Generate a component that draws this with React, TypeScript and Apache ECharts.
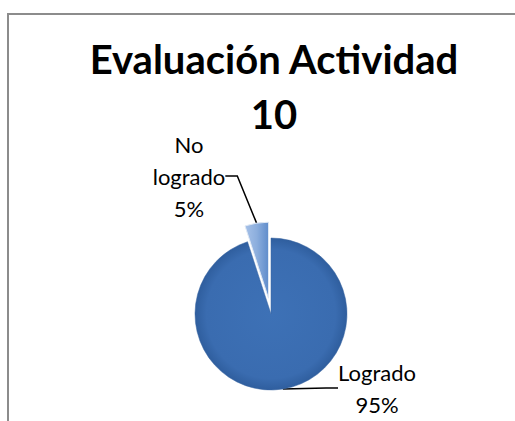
import React, { useEffect, useRef } from "react";
import * as echarts from "echarts";

const categories = ["Logrado", "No logrado"];
const values = [95, 5];
const explodedIndex = 1;
const titleLines = ["Evaluación Actividad", "10"];

export default function App() {
  const ref = useRef<HTMLDivElement>(null);
  useEffect(() => {
    document.body.style.margin = "0";
    const chart = echarts.init(ref.current!, null, { renderer: "svg" });
    const mainFill = new echarts.graphic.RadialGradient(0.5, 0.5, 0.5, [
      { offset: 0, color: "#3d71b6" },
      { offset: 0.85, color: "#3a6cb0" },
      { offset: 1, color: "#2f5e9e" },
    ]);
    const smallFill = new echarts.graphic.LinearGradient(0, 0, 1, 0, [
      { offset: 0, color: "#a6c1e8" },
      { offset: 0.5, color: "#8caedd" },
      { offset: 1, color: "#5f8ccb" },
    ]);
    const center = [271, 314];
    const explode = 16;
    const total = values.reduce((a, b) => a + b, 0);
    const before = values.slice(0, explodedIndex).reduce((a, b) => a + b, 0);
    const midFrac = (before + values[explodedIndex] / 2) / total;
    const ang = midFrac * 2 * Math.PI; // clockwise from top
    const off = [Math.sin(ang) * explode, -Math.cos(ang) * explode];
    const labelPos = [
      { x: 377, y: 388 },
      { x: 189, y: 176 },
    ];
    const fills = [mainFill, smallFill];
    const borders = ["#3a67a2", "#dfe8f4"];

    const makeSeries = (visibleIdx: number[], c: number[]) => ({
      type: "pie",
      center: c,
      radius: 76,
      startAngle: 90,
      clockwise: true,
      silent: true,
      data: categories.map((name, i) => {
        const vis = visibleIdx.includes(i);
        return {
          name,
          value: values[i],
          itemStyle: vis
            ? { color: fills[i], borderColor: borders[i], borderWidth: i === 0 ? 0.5 : 1 }
            : { color: "rgba(0,0,0,0)", borderWidth: 0 },
          label: { show: vis },
          labelLine: { show: vis },
        };
      }),
      label: {
        show: true,
        position: "outside",
        formatter: (p: any) => p.name.replace(" ", "\n") + "\n" + Math.round(p.percent) + "%",
        fontFamily: "Lato",
        fontSize: 22,
        lineHeight: 32,
        color: "#000000",
        align: "center",
      },
      labelLine: {
        show: true,
        length: 20,
        length2: 12,
        lineStyle: { color: "#000000", width: 1.5 },
      },
      labelLayout: (p: any) => ({
        x: labelPos[p.dataIndex].x,
        y: labelPos[p.dataIndex].y,
        align: "center",
        verticalAlign: "middle",
      }),
      emphasis: { disabled: true },
    });

    const others = categories.map((_, i) => i).filter((i) => i !== explodedIndex);
    chart.setOption({
      animation: false,
      backgroundColor: "#ffffff",
      title: {
        text: titleLines.join("\n"),
        left: 269,
        textAlign: "center",
        top: 26.5,
        textStyle: {
          fontFamily: "Lato",
          fontWeight: "bold",
          fontSize: 40,
          lineHeight: 55,
          color: "#000000",
        },
      },
      graphic: [
        {
          type: "rect",
          shape: { x: 8, y: 14, width: 700, height: 600 },
          style: { fill: "none", stroke: "#8c8c8c", lineWidth: 2 },
          silent: true,
        },
      ],
      series: [
        makeSeries(others, center),
        makeSeries([explodedIndex], [center[0] + off[0], center[1] + off[1]]),
      ],
    });
    return () => chart.dispose();
  }, []);
  return <div ref={ref} style={{ width: 515, height: 421 }} />;
}
